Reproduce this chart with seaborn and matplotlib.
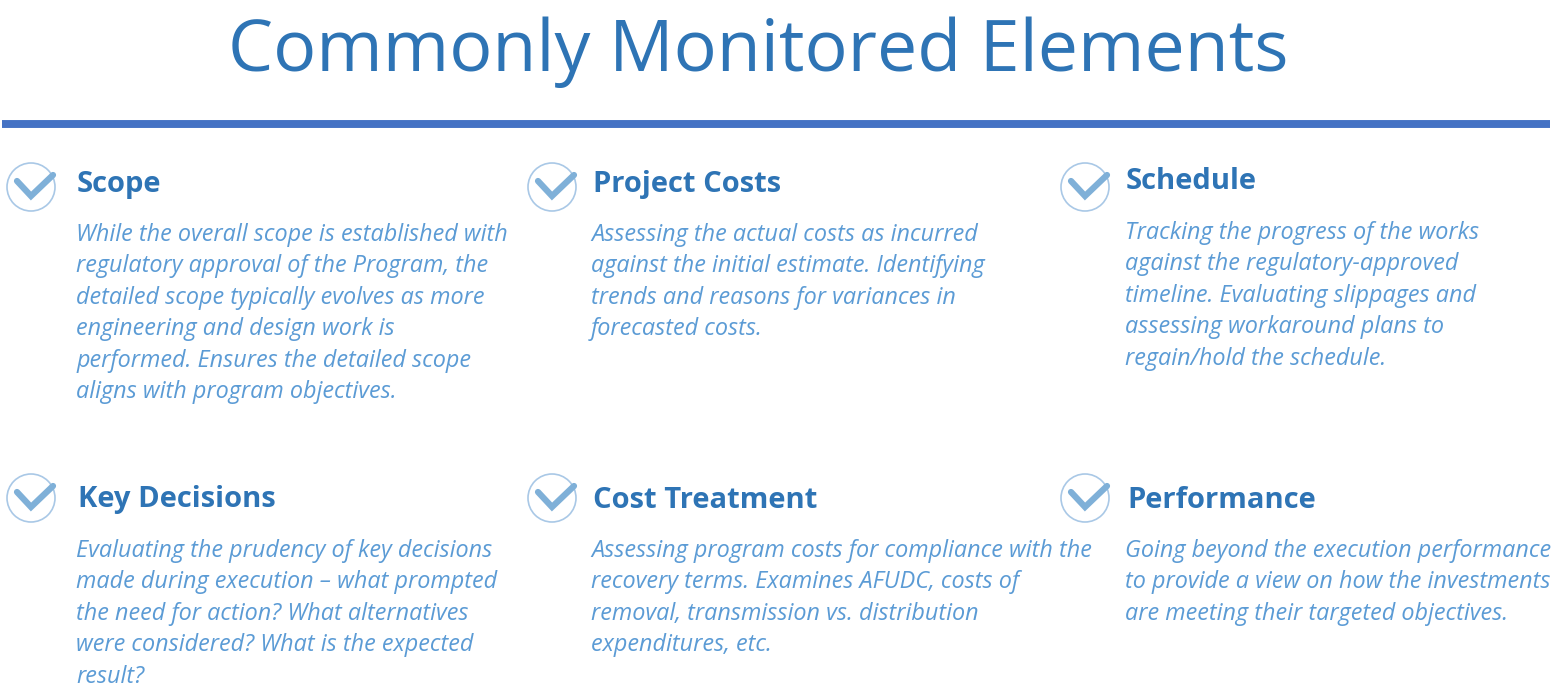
import matplotlib
matplotlib.use('Agg')
import matplotlib.pyplot as plt
import seaborn as sns

sns.set_theme(style='white')
plt.rcParams['font.family'] = ['Open Sans', 'DejaVu Sans']

W, H = 1554, 694

title = 'Commonly Monitored Elements'
headings = ['Scope', 'Project Costs', 'Schedule', 'Key Decisions', 'Cost Treatment', 'Performance']
bodies = [
    ['While the overall scope is established with', 'regulatory approval of the Program, the',
     'detailed scope typically evolves as more', 'engineering and design work is',
     'performed. Ensures the detailed scope', 'aligns with program objectives.'],
    ['Assessing the actual costs as incurred', 'against the initial estimate. Identifying',
     'trends and reasons for variances in', 'forecasted costs.'],
    ['Tracking the progress of the works', 'against the regulatory-approved',
     'timeline. Evaluating slippages and', 'assessing workaround plans to',
     'regain/hold the schedule.'],
    ['Evaluating the prudency of key decisions', 'made during execution \u2013 what prompted',
     'the need for action? What alternatives', 'were considered? What is the expected', 'result?'],
    ['Assessing program costs for compliance with the', 'recovery terms. Examines AFUDC, costs of',
     'removal, transmission vs. distribution', 'expenditures, etc.'],
    ['Going beyond the execution performance', 'to provide a view on how the investments',
     'are meeting their targeted objectives.'],
]
# icon centre x, icon centre y, heading x, heading y, body x, first body line y
anchors = [
    (31, 187, 77, 184, 76, 235),
    (552, 187, 593, 184, 591, 235),
    (1085, 187, 1126, 181, 1125, 233),
    (31, 498, 78, 500, 76, 551),
    (552, 498, 593, 500, 591, 551),
    (1085, 498, 1127, 500, 1125, 551),
]

BLUE = '#2E74B5'
LIGHT = '#5B9BD5'
RULE = '#4472C4'
ICON = '#7FB0D8'

fig = plt.figure(figsize=(W / 100, H / 100), dpi=100)
ax = fig.add_axes([0, 0, 1, 1])
ax.set_xlim(0, W)
ax.set_ylim(H, 0)
ax.axis('off')

ax.text(758, 52, title, color=BLUE, fontsize=51.7, ha='center', va='center')
ax.plot([2, 1550], [124, 124], color=RULE, lw=5.7, solid_capstyle='butt')

for (ix, iy, hx, hy, bx, by), head, lines in zip(anchors, headings, bodies):
    ax.add_patch(plt.Circle((ix, iy), 24, fill=False, ec='#A9C8E6', lw=1.2))
    ax.plot([ix - 14, ix, ix + 22], [iy - 6, iy + 9, iy - 12], color=ICON, lw=4.5,
            solid_capstyle='round', solid_joinstyle='miter')
    ax.text(hx, hy, head, color=BLUE, fontsize=21, fontweight='bold', ha='left', va='center')
    for i, line in enumerate(lines):
        ax.text(bx, by + i * 31.4, line, color=LIGHT, fontsize=16.85, style='italic', ha='left', va='center')

fig.savefig('out.png', dpi=100, facecolor='white')
